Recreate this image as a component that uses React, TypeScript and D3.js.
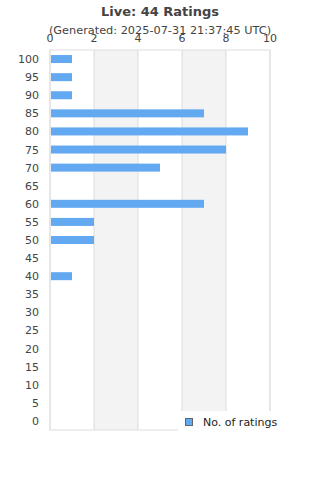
import React from "react";
import * as d3 from "d3";

const ratingBins = [100, 95, 90, 85, 80, 75, 70, 65, 60, 55, 50, 45, 40, 35, 30, 25, 20, 15, 10, 5, 0];
const ratingCounts = [1, 1, 1, 7, 9, 8, 5, 0, 7, 2, 2, 0, 1, 0, 0, 0, 0, 0, 0, 0, 0];
const xTicks = [0, 2, 4, 6, 8, 10];

const width = 320;
const height = 480;
const margin = { top: 50, right: 50, bottom: 50, left: 50 };
const font = "DejaVu Sans, sans-serif";

export default function App() {
  const x = d3.scaleLinear().domain([0, 10]).range([margin.left, width - margin.right]);
  const y = d3
    .scaleBand<number>()
    .domain(ratingBins)
    .range([margin.top, height - margin.bottom]);
  const barH = 8;

  return (
    <svg
      width={width}
      height={height}
      style={{ position: "absolute", left: 0, top: 0, fontFamily: font }}
    >
      <rect width={width} height={height} fill="#fff" />
      <text x={160} y={16} textAnchor="middle" fontSize={13} fontWeight="bold" fill="#444">
        Live: 44 Ratings
      </text>
      <text x={160} y={34} textAnchor="middle" fontSize={11.3} fill="#444">
        (Generated: 2025-07-31 21:37:45 UTC)
      </text>

      {/* alternating bands */}
      {xTicks.slice(0, -1).map((t, i) =>
        i % 2 === 1 ? (
          <rect
            key={"band" + t}
            x={x(t)}
            y={margin.top}
            width={x(xTicks[i + 1]) - x(t)}
            height={height - margin.bottom - margin.top}
            fill="#f3f3f3"
          />
        ) : null
      )}
      {xTicks.map((t) => (
        <line
          key={"grid" + t}
          x1={x(t)}
          x2={x(t)}
          y1={margin.top}
          y2={height - margin.bottom}
          stroke="#ddd"
          strokeWidth={1}
        />
      ))}
      <rect
        x={margin.left}
        y={margin.top}
        width={x(10) - x(0)}
        height={height - margin.bottom - margin.top}
        fill="none"
        stroke="#ddd"
      />

      {xTicks.map((t) => (
        <text key={"xt" + t} x={x(t)} y={42} textAnchor="middle" fontSize={11} fill="#444">
          {t}
        </text>
      ))}

      {ratingBins.map((b, i) => (
        <g key={"bin" + b}>
          <text
            x={39}
            y={y(b)! + y.bandwidth() / 2 + 4}
            textAnchor="end"
            fontSize={11}
            fill="#444"
          >
            {b}
          </text>
          {ratingCounts[i] > 0 && (
            <rect
              x={x(0) + 1}
              y={y(b)! + (y.bandwidth() - barH) / 2}
              width={x(ratingCounts[i]) - x(0) - 1}
              height={barH}
              fill="#63a9f2"
            />
          )}
        </g>
      ))}

      {/* legend */}
      <rect x={178} y={411} width={142} height={30} fill="#fff" />
      <rect x={185.5} y={418.5} width={7} height={7} fill="#63a9f2" stroke="#666" strokeWidth={1} />
      <text x={203} y={426} fontSize={11} fill="#222">
        No. of ratings
      </text>
    </svg>
  );
}
